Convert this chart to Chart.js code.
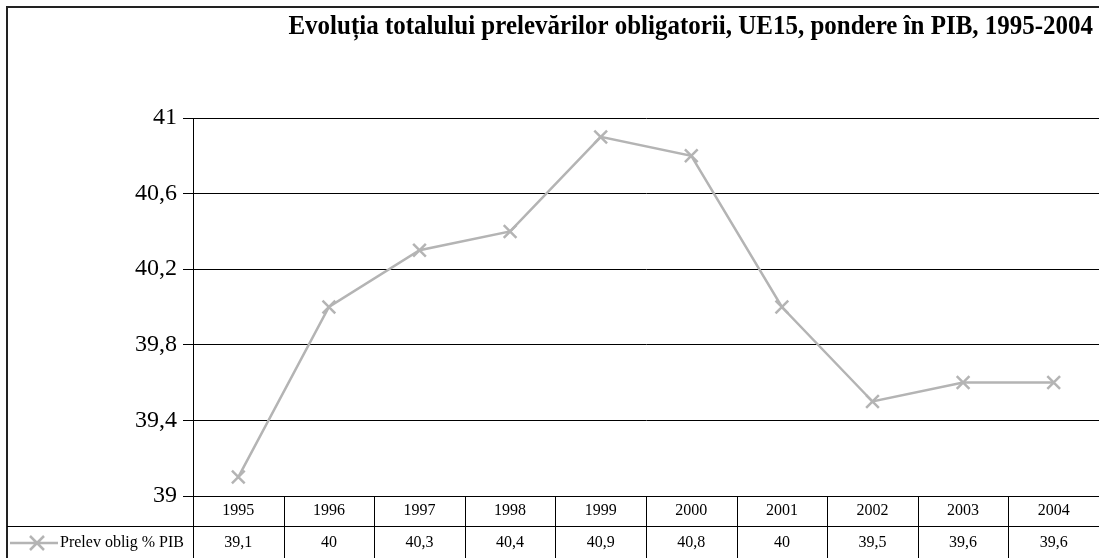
<!DOCTYPE html>
<html>
<head>
<meta charset="utf-8">
<script src="https://cdn.jsdelivr.net/npm/chart.js@4"></script>
<style>
html,body{margin:0;padding:0;background:#fff;}
canvas{display:block;}
</style>
</head>
<body>
<canvas id="c" width="1099" height="558"></canvas>
<script>
const titleText = 'Evoluția totalului prelevărilor obligatorii, UE15, pondere în PIB, 1995-2004';
const categories = ['1995','1996','1997','1998','1999','2000','2001','2002','2003','2004'];
const seriesName = 'Prelev oblig % PIB';
const values = [39.1, 40, 40.3, 40.4, 40.9, 40.8, 40, 39.5, 39.6, 39.6];
const yMin = 39, yMax = 41, yStep = 0.4;

const FONT = "'Liberation Serif', 'Times New Roman', serif";
const LINE_COLOR = '#b4b4b4';
const fmt = v => String(Math.round(v * 10) / 10).replace('.', ',');

const tablePlugin = {
  id: 'tablePlugin',
  afterDraw(chart) {
    const ctx = chart.ctx;
    const ca = chart.chartArea;
    const xs = chart.scales.x;
    const H = chart.height;
    ctx.save();
    // outer border
    ctx.strokeStyle = '#222';
    ctx.lineWidth = 2;
    ctx.beginPath();
    ctx.moveTo(7, H + 2);
    ctx.lineTo(7, 7);
    ctx.lineTo(chart.width + 2, 7);
    ctx.stroke();

    // title (slightly condensed, taller glyphs)
    ctx.save();
    ctx.fillStyle = '#000';
    ctx.font = "bold 27px " + FONT;
    ctx.textAlign = 'right';
    ctx.textBaseline = 'alphabetic';
    const sx = 0.925;
    ctx.translate(1093, 34);
    ctx.scale(sx, 1);
    ctx.fillText(titleText, 0, 0);
    ctx.restore();

    // table lines
    ctx.strokeStyle = '#000';
    ctx.lineWidth = 1;
    ctx.textBaseline = 'middle';
    const rowSep = 526.5;
    ctx.beginPath();
    ctx.moveTo(7, rowSep);
    ctx.lineTo(chart.width, rowSep);
    const n = categories.length;
    const colW = (ca.right - ca.left) / n;
    for (let i = 0; i <= n; i++) {
      const x = Math.round(ca.left + i * colW) + 0.5;
      ctx.moveTo(x, ca.bottom);
      ctx.lineTo(x, H);
    }
    ctx.stroke();

    // text
    ctx.font = "16px " + FONT;
    ctx.textAlign = 'center';
    ctx.fillStyle = '#000';
    categories.forEach((c, i) => {
      const x = xs.getPixelForValue(i);
      ctx.fillText(c, x, 511);
      ctx.fillText(fmt(values[i]), x, 543);
    });
    // legend key
    ctx.textAlign = 'left';
    ctx.fillText(seriesName, 60, 543);
    ctx.strokeStyle = LINE_COLOR;
    ctx.lineWidth = 2.5;
    ctx.beginPath();
    ctx.moveTo(10, 543);
    ctx.lineTo(58, 543);
    const r = 7;
    ctx.moveTo(37 - r, 543 - r); ctx.lineTo(37 + r, 543 + r);
    ctx.moveTo(37 - r, 543 + r); ctx.lineTo(37 + r, 543 - r);
    ctx.stroke();
    ctx.restore();
  }
};

new Chart(document.getElementById('c'), {
  type: 'line',
  data: {
    labels: categories,
    datasets: [{
      label: seriesName,
      data: values,
      borderColor: LINE_COLOR,
      backgroundColor: LINE_COLOR,
      borderWidth: 2.5,
      pointStyle: 'crossRot',
      pointRadius: 9,
      pointBorderWidth: 2.5,
      pointBorderColor: LINE_COLOR,
      tension: 0,
      fill: false,
      clip: false
    }]
  },
  options: {
    responsive: false,
    animation: false,
    devicePixelRatio: 1,
    layout: { autoPadding: false, padding: { left: 7, top: 118, right: 0, bottom: 62 } },
    plugins: { legend: { display: false }, title: { display: false }, tooltip: { enabled: false } },
    scales: {
      x: {
        type: 'category',
        offset: true,
        display: false,
        grid: { display: false }
      },
      y: {
        min: yMin, max: yMax,
        afterFit(scale) { scale.width = 186; },
        afterBuildTicks(scale) {
          const t = [];
          for (let v = yMin; v <= yMax + 1e-9; v += yStep) t.push({ value: Math.round(v * 10) / 10 });
          scale.ticks = t;
        },
        ticks: {
          stepSize: yStep,
          color: '#000',
          padding: 6,
          font: { family: FONT, size: 24 },
          callback: v => fmt(v)
        },
        grid: { color: '#000', lineWidth: 1, tickLength: 10, drawTicks: true },
        border: { display: true, color: '#000', width: 1 }
      }
    }
  },
  plugins: [tablePlugin]
});
</script>
</body>
</html>
